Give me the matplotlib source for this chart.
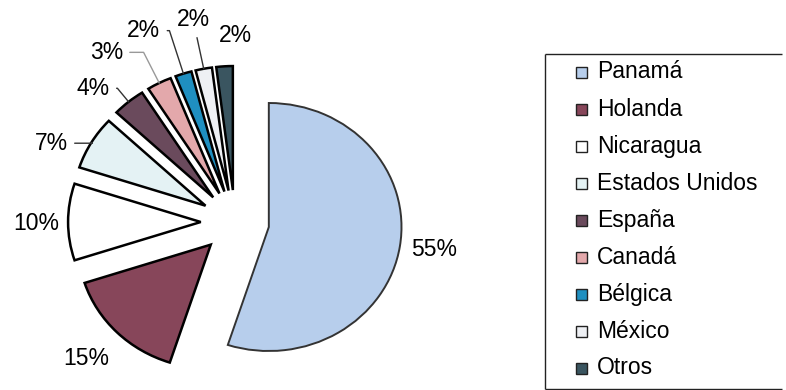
import matplotlib.pyplot as plt
from matplotlib.patches import Rectangle
import numpy as np

plt.rcParams['font.family'] = ['Liberation Sans', 'DejaVu Sans']

countries = ['Panamá', 'Holanda', 'Nicaragua', 'Estados Unidos', 'España',
             'Canadá', 'Bélgica', 'México', 'Otros']
shares = [55, 15, 10, 7, 4, 3, 2, 2, 2]
pct_labels = ['55%', '15%', '10%', '7%', '4%', '3%', '2%', '2%', '2%']
colors = ['#b7ceec', '#87465a', '#ffffff', '#e4f2f4', '#6a4a5c',
          '#e3a8ab', '#1f8fc0', '#eef0f4', '#3a5560']

# label layout: angle shift (deg), distance from centre (px), leader style
lab_shift = [1.0, -2.6, 0.3, 7.4, 7.1, 10.2, 7.5, 0.9, -3.6]
lab_dist = [201, 202, 199, 200, 195, 213, 212, 207, 186]
lab_line = [None, None, None, 'angle', 'angle', 'angle', 'angle', 'straight', None]
line_cols = ['k', 'k', 'k', '#333333', '#333333', '#999999', '#333333', '#333333', 'k']

W, H = 786, 390
sx = 1.07  # the scanned pie is a little wider than tall
fig = plt.figure(figsize=(W / 100, H / 100), dpi=100)

# pie axes
ax = fig.add_axes([0, 0, 1, 1])
cx, cy = 235, H - 222
R = 124
expl = 32
wedges, _ = ax.pie(shares, colors=colors, startangle=90, counterclock=False,
                   center=(cx / sx, cy), radius=R, explode=[expl] * len(shares),
                   wedgeprops=dict(edgecolor='k', linewidth=1.8))
wedges[0].set_edgecolor('#333333')
wedges[0].set_linewidth(1.4)
ax.set_aspect('auto')
ax.set_xlim(0, W / sx)
ax.set_ylim(0, H)
ax.axis('off')

# overlay in pixel units for labels and legend
ov = fig.add_axes([0, 0, 1, 1])
ov.set_xlim(0, W)
ov.set_ylim(0, H)
ov.axis('off')
ov.patch.set_alpha(0)

for i, w in enumerate(wedges):
    mid = 0.5 * (w.theta1 + w.theta2)
    a = np.deg2rad(mid + lab_shift[i])
    tx = cx + lab_dist[i] * np.cos(a)
    ty = cy + lab_dist[i] * np.sin(a)
    if lab_line[i]:
        m = np.deg2rad(mid)
        ex = cx + sx * (expl + R) * np.cos(m)
        ey = cy + (expl + R) * np.sin(m)
        if lab_line[i] == 'angle':
            cs = 'angle,angleA=0,angleB=%.1f,rad=0' % mid
        else:
            cs = 'arc3'
        ov.annotate(pct_labels[i], xy=(ex, ey), xytext=(tx, ty),
                    ha='center', va='center', fontsize=16.5,
                    arrowprops=dict(arrowstyle='-', color=line_cols[i], lw=1,
                                    shrinkA=3, shrinkB=0, connectionstyle=cs))
    else:
        ov.text(tx, ty, pct_labels[i], ha='center', va='center', fontsize=16.5)

# legend frame: the right side is cut off in the original, so no right edge
ov.plot([545, W - 4], [H - 54, H - 54], color='#222222', lw=1.0,
        solid_capstyle='butt')
ov.plot([545, 545], [H - 54, H - 389], color='#222222', lw=1.0,
        solid_capstyle='butt')
ov.plot([545, W - 4], [H - 389, H - 389], color='#222222', lw=1.0,
        solid_capstyle='butt')
y0, dy = 72, 37
for i, name in enumerate(countries):
    y = H - (y0 + i * dy)
    ov.add_patch(Rectangle((576, y - 5.5), 11, 11, facecolor=colors[i],
                           edgecolor='#222222', lw=1.0))
    ov.text(597, y, name, ha='left', va='center', fontsize=16.5)

fig.savefig('out.png', dpi=100)
